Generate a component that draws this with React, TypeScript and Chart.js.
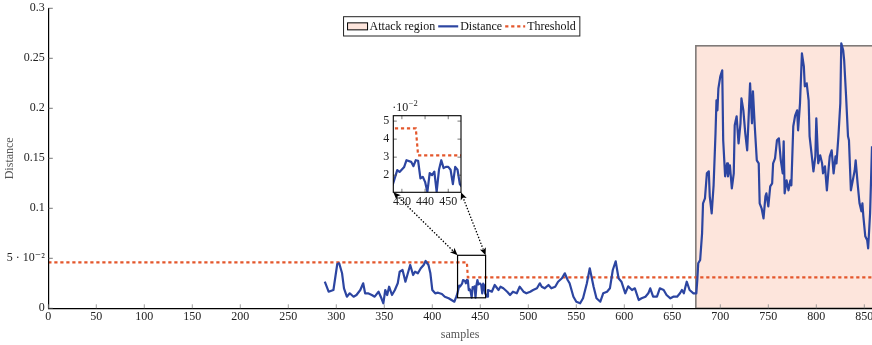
import React, { useEffect, useRef } from 'react';
import { Chart, registerables } from 'chart.js';

Chart.register(...registerables);

// ---------------- data ----------------
const sampleIdx = [
  288, 292, 297, 301, 303, 306, 308, 311, 314, 318,
  321, 325, 328, 330, 333, 337, 340, 344, 347, 349,
  351, 353, 355, 358, 361, 364, 366, 369, 372, 374,
  377, 380, 382, 385, 388, 391, 393, 396, 398, 400,
  403, 406, 410, 413, 417, 420, 423, 425, 426, 428,
  429, 431, 432, 434, 435, 436, 437, 438, 439, 440,
  441, 442, 443, 444, 445, 446, 447, 448, 449, 450,
  451, 452, 453, 454, 455, 457, 458, 462, 465, 469,
  471, 474, 478, 481, 484, 488, 491, 495, 498, 502,
  505, 509, 512, 514, 517, 521, 524, 528, 531, 535,
  538, 541, 543, 547, 550, 554, 557, 561, 564, 568,
  571, 575, 578, 582, 585, 588, 591, 594, 597, 601,
  604, 608, 611, 615, 618, 622, 625, 627, 630, 634,
  637, 641, 644, 648, 651, 655, 658, 660, 662, 665,
  668, 672, 675, 676, 677, 679, 681, 682, 684, 686,
  688, 689, 691, 693, 695, 696, 697, 698, 700, 702,
  703, 705, 707, 708, 710, 712, 714, 715, 717, 719,
  721, 722, 724, 726, 728, 729, 731, 733, 734, 736,
  738, 740, 741, 743, 745, 747, 748, 750, 752, 754,
  755, 757, 759, 761, 763, 765, 766, 767, 769, 771,
  773, 774, 776, 778, 780, 781, 783, 785, 787, 788,
  790, 792, 793, 795, 797, 799, 800, 802, 804, 806,
  807, 809, 811, 813, 814, 816, 818, 820, 821, 823,
  825, 826, 828, 829, 831, 833, 834, 836, 838, 840,
  841, 843, 845, 847, 848, 849, 851, 853, 854, 856,
  858, 860,
];

const distance = [
  0.0267, 0.0166, 0.0183, 0.0443, 0.045, 0.035, 0.02, 0.0116, 0.015, 0.0116,
  0.0133, 0.0183, 0.025, 0.015, 0.015, 0.0133, 0.0116, 0.0166, 0.01, 0.005,
  0.0183, 0.0133, 0.0216, 0.0133, 0.0183, 0.025, 0.0366, 0.0383, 0.0266, 0.0333,
  0.0433, 0.0333, 0.0366, 0.035, 0.04, 0.0433, 0.0473, 0.0433, 0.035, 0.0183,
  0.015, 0.0156, 0.0143, 0.0116, 0.01, 0.0083, 0.0066, 0.0116, 0.0144, 0.0228,
  0.0218, 0.0246, 0.0283, 0.0274, 0.025, 0.0283, 0.028, 0.0182, 0.0191, 0.0163,
  0.0107, 0.0212, 0.02, 0.022, 0.0107, 0.023, 0.0283, 0.0239, 0.0246, 0.0246,
  0.023, 0.015, 0.0246, 0.023, 0.015, 0.0116, 0.0183, 0.0166, 0.0233, 0.0183,
  0.0216, 0.02, 0.0166, 0.0133, 0.0166, 0.015, 0.0216, 0.0166, 0.015, 0.0166,
  0.0183, 0.02, 0.025, 0.0216, 0.02, 0.0233, 0.02, 0.0216, 0.0266, 0.03,
  0.035, 0.0283, 0.025, 0.0116, 0.0066, 0.005, 0.01, 0.025, 0.04, 0.0216,
  0.01, 0.0066, 0.015, 0.0166, 0.02, 0.0383, 0.047, 0.03, 0.0266, 0.015,
  0.022, 0.0183, 0.02, 0.0083, 0.01, 0.0116, 0.015, 0.02, 0.0116, 0.0116,
  0.02, 0.0183, 0.0133, 0.01, 0.0116, 0.0116, 0.015, 0.0183, 0.015, 0.0266,
  0.0183, 0.015, 0.015, 0.028, 0.045, 0.0483, 0.075, 0.105, 0.11, 0.135,
  0.137, 0.112, 0.095, 0.123, 0.175, 0.208, 0.198, 0.22, 0.232, 0.238,
  0.168, 0.132, 0.145, 0.132, 0.143, 0.12, 0.135, 0.183, 0.192, 0.165,
  0.185, 0.21, 0.198, 0.175, 0.158, 0.18, 0.225, 0.185, 0.217, 0.18,
  0.148, 0.145, 0.105, 0.1, 0.09, 0.112, 0.115, 0.102, 0.122, 0.125,
  0.145, 0.15, 0.168, 0.17, 0.148, 0.135, 0.167, 0.115, 0.128, 0.118,
  0.128, 0.123, 0.182, 0.193, 0.198, 0.178, 0.205, 0.255, 0.242, 0.222,
  0.225, 0.208, 0.172, 0.155, 0.137, 0.152, 0.19, 0.145, 0.153, 0.145,
  0.135, 0.142, 0.118, 0.142, 0.152, 0.158, 0.135, 0.152, 0.145, 0.172,
  0.205, 0.265, 0.258, 0.248, 0.212, 0.172, 0.168, 0.118, 0.128, 0.138,
  0.148, 0.125, 0.105, 0.097, 0.105, 0.092, 0.072, 0.068, 0.06, 0.095,
  0.162, 0.2,
];

const thresholdIdx = [0, 436, 437, 858];
const thresholdVal = [0.046, 0.046, 0.031, 0.031];

const legendLabels = ['Attack region', 'Distance', 'Threshold'];

const xMin = 0;
const xMax = 858;
const xStep = 50;
const yMin = 0;
const yMax = 0.3;
const yStep = 0.05;

const attackStart = 674.5;
const attackEnd = 900;
const attackTop = 0.2625;

const zoomXMin = 426.3;
const zoomXMax = 455.5;
const zoomYMin = 0.0105;
const zoomYMax = 0.053;
const zoomXStep = 10;
const zoomYStep = 0.01;

// ---------------- styles / layout ----------------
const W = 872;
const H = 345;
const BLUE = '#2c45a1';
const ORANGE = '#e4572c';
const ATTACK_FILL = '#fde5dc';
const ATTACK_BORDER = '#7f7a78';
const SERIF = '"Liberation Serif", "DejaVu Serif", serif';
const FONT12 = `12px ${SERIF}`;
const LINE_W = 2.2;

const PLOT = { left: 48.3, top: 8.3, bottom: 308.3 };
const INSET = { left: 393.3, top: 115.7, right: 461, bottom: 192.3 };
const INSET_CANVAS = { left: 355, top: 96, width: 115, height: 118 };

const distPoints = () => sampleIdx.map((s, i) => ({ x: s, y: distance[i] }));
const thrPoints = () => thresholdIdx.map((s, i) => ({ x: s, y: thresholdVal[i] }));

function arrowHead(ctx: CanvasRenderingContext2D, tx: number, ty: number, fx: number, fy: number) {
  const a = Math.atan2(ty - fy, tx - fx);
  const L = 7.5, Wd = 3.2;
  const c = Math.cos(a), s = Math.sin(a);
  ctx.beginPath();
  ctx.moveTo(tx, ty);
  ctx.lineTo(tx - L * c + Wd * s, ty - L * s - Wd * c);
  ctx.lineTo(tx - L * c * 0.75, ty - L * s * 0.75);
  ctx.lineTo(tx - L * c - Wd * s, ty - L * s + Wd * c);
  ctx.closePath();
  ctx.fill();
}

function dottedArrow(ctx: CanvasRenderingContext2D, x1: number, y1: number, x2: number, y2: number) {
  ctx.save();
  ctx.strokeStyle = '#000';
  ctx.fillStyle = '#000';
  ctx.lineWidth = 1.5;
  ctx.lineCap = 'round';
  ctx.setLineDash([0.1, 3]);
  const a = Math.atan2(y2 - y1, x2 - x1);
  const c = Math.cos(a), s = Math.sin(a);
  ctx.beginPath();
  ctx.moveTo(x1 + 5 * c, y1 + 5 * s);
  ctx.lineTo(x2 - 5 * c, y2 - 5 * s);
  ctx.stroke();
  ctx.setLineDash([]);
  arrowHead(ctx, x1, y1, x2, y2);
  arrowHead(ctx, x2, y2, x1, y1);
  ctx.restore();
}

function drawLegend(ctx: CanvasRenderingContext2D) {
  ctx.save();
  ctx.font = FONT12;
  const sw = 20, gapSwText = 2, gapItem = 3, pad = 4;
  let total = pad * 2;
  legendLabels.forEach((l, i) => {
    total += sw + gapSwText + ctx.measureText(l).width + (i < legendLabels.length - 1 ? gapItem : 0);
  });
  const cx = 461.7;
  const left = cx - total / 2;
  const top = 16.7;
  const h = 19.3;
  const midY = top + h / 2;
  ctx.fillStyle = '#fff';
  ctx.fillRect(left, top, total, h);
  ctx.strokeStyle = '#222';
  ctx.lineWidth = 1;
  ctx.strokeRect(left, top, total, h);
  let x = left + pad;
  legendLabels.forEach((l, i) => {
    if (i === 0) {
      ctx.fillStyle = ATTACK_FILL;
      ctx.fillRect(x, midY - 3.5, sw, 7);
      ctx.strokeStyle = '#000';
      ctx.lineWidth = 1;
      ctx.strokeRect(x, midY - 3.5, sw, 7);
    } else {
      ctx.strokeStyle = i === 1 ? BLUE : ORANGE;
      ctx.lineWidth = LINE_W;
      ctx.setLineDash(i === 1 ? [] : [3.2, 2.8]);
      ctx.beginPath();
      ctx.moveTo(x, midY);
      ctx.lineTo(x + sw, midY);
      ctx.stroke();
      ctx.setLineDash([]);
    }
    x += sw + gapSwText;
    ctx.fillStyle = '#111';
    ctx.textBaseline = 'middle';
    ctx.textAlign = 'left';
    ctx.fillText(l, x, midY + 0.5);
    x += ctx.measureText(l).width + gapItem;
  });
  ctx.restore();
}

const mainPlugin = {
  id: 'mainDecor',
  beforeDatasetsDraw(chart: any) {
    const { ctx, chartArea: ca, scales } = chart;
    const x = scales.x, y = scales.y;
    ctx.save();
    ctx.beginPath();
    ctx.rect(ca.left, ca.top - 2, ca.right - ca.left, ca.bottom - ca.top + 2);
    ctx.clip();
    const x0 = x.getPixelForValue(attackStart);
    const x1 = x.getPixelForValue(attackEnd);
    const y0 = y.getPixelForValue(0);
    const y1 = y.getPixelForValue(attackTop);
    ctx.fillStyle = ATTACK_FILL;
    ctx.fillRect(x0, y1, x1 - x0, y0 - y1);
    ctx.strokeStyle = ATTACK_BORDER;
    ctx.lineWidth = 1.6;
    ctx.strokeRect(x0, y1, x1 - x0, y0 - y1);
    ctx.restore();
  },
  afterDraw(chart: any) {
    const { ctx, chartArea: ca, scales } = chart;
    const x = scales.x, y = scales.y;
    ctx.save();
    ctx.lineWidth = 0.8;
    ctx.strokeStyle = '#888';
    x.ticks.forEach((t: any) => {
      const px = x.getPixelForValue(t.value);
      ctx.beginPath();
      ctx.moveTo(px, ca.bottom);
      ctx.lineTo(px, ca.bottom - 4);
      ctx.stroke();
    });
    ctx.strokeStyle = '#555';
    y.ticks.forEach((t: any) => {
      const py = y.getPixelForValue(t.value);
      ctx.beginPath();
      ctx.moveTo(ca.left, py);
      ctx.lineTo(ca.left + 4.5, py);
      ctx.stroke();
    });
    const rx0 = x.getPixelForValue(zoomXMin);
    const rx1 = x.getPixelForValue(zoomXMax);
    const ry0 = y.getPixelForValue(zoomYMax);
    const ry1 = y.getPixelForValue(zoomYMin);
    ctx.strokeStyle = '#000';
    ctx.lineWidth = 1.2;
    ctx.strokeRect(rx0, ry0, rx1 - rx0, ry1 - ry0);
    ctx.restore();
    dottedArrow(ctx, INSET.left, INSET.bottom, rx0, ry0);
    dottedArrow(ctx, INSET.right, INSET.bottom, rx1, ry0);
    drawLegend(ctx);
  },
};

const insetPlugin = {
  id: 'insetDecor',
  beforeDraw(chart: any) {
    const { ctx, chartArea: ca } = chart;
    ctx.save();
    ctx.fillStyle = '#fff';
    ctx.fillRect(ca.left, ca.top, ca.right - ca.left, ca.bottom - ca.top);
    ctx.restore();
  },
  afterDraw(chart: any) {
    const { ctx, chartArea: ca, scales } = chart;
    const x = scales.x, y = scales.y;
    ctx.save();
    ctx.strokeStyle = '#555';
    ctx.lineWidth = 0.8;
    x.ticks.forEach((t: any) => {
      const px = x.getPixelForValue(t.value);
      ctx.beginPath();
      ctx.moveTo(px, ca.bottom);
      ctx.lineTo(px, ca.bottom - 3.5);
      ctx.moveTo(px, ca.top);
      ctx.lineTo(px, ca.top + 3.5);
      ctx.stroke();
    });
    y.ticks.forEach((t: any) => {
      const py = y.getPixelForValue(t.value);
      ctx.beginPath();
      ctx.moveTo(ca.left, py);
      ctx.lineTo(ca.left + 3.5, py);
      ctx.moveTo(ca.right, py);
      ctx.lineTo(ca.right - 3.5, py);
      ctx.stroke();
    });
    ctx.strokeStyle = '#000';
    ctx.lineWidth = 1.1;
    ctx.strokeRect(ca.left, ca.top, ca.right - ca.left, ca.bottom - ca.top);
    ctx.fillStyle = '#222';
    ctx.textAlign = 'left';
    ctx.textBaseline = 'alphabetic';
    ctx.font = FONT12;
    const base = '\u00b710';
    ctx.fillText(base, ca.left - 1, ca.top - 5);
    const bw = ctx.measureText(base).width;
    ctx.font = `8.5px ${SERIF}`;
    ctx.fillText('\u22122', ca.left - 1 + bw + 0.5, ca.top - 9.5);
    ctx.restore();
  },
};

export default function App() {
  const mainRef = useRef<HTMLCanvasElement | null>(null);
  const insetRef = useRef<HTMLCanvasElement | null>(null);

  useEffect(() => {
    if (!mainRef.current || !insetRef.current) return;
    const tickFont = { family: SERIF, size: 12 };
    const titleFont = { family: SERIF, size: 12 };

    const main = new Chart(mainRef.current, {
      type: 'line',
      data: {
        datasets: [
          {
            label: legendLabels[1],
            data: distPoints(),
            borderColor: BLUE,
            borderWidth: LINE_W,
            pointRadius: 0,
            tension: 0,
            borderJoinStyle: 'round',
            clip: 0,
          } as any,
          {
            label: legendLabels[2],
            data: thrPoints(),
            borderColor: ORANGE,
            borderWidth: LINE_W,
            borderDash: [3.2, 2.8],
            pointRadius: 0,
            tension: 0,
            clip: 0,
          } as any,
        ],
      },
      options: {
        animation: false,
        responsive: false,
        events: [],
        layout: { padding: { top: PLOT.top, right: 0, left: 0, bottom: 0 } },
        plugins: { legend: { display: false }, tooltip: { enabled: false } },
        scales: {
          x: {
            type: 'linear',
            min: xMin,
            max: xMax,
            ticks: {
              stepSize: xStep,
              includeBounds: false,
              autoSkip: false,
              maxRotation: 0,
              padding: 1,
              font: tickFont,
              color: '#222',
            },
            grid: { display: false, drawTicks: false },
            border: { display: true, color: '#000', width: 1.2, z: 1 },
            title: {
              display: true,
              text: 'samples',
              font: titleFont,
              color: '#555',
              padding: { top: 0, bottom: 3.3 },
            },
            afterFit(s: any) {
              s.height = H - PLOT.bottom;
              s.paddingLeft = 0;
              s.paddingRight = 0;
            },
          },
          y: {
            type: 'linear',
            min: yMin,
            max: yMax,
            ticks: {
              stepSize: yStep,
              autoSkip: false,
              padding: 3.5,
              font: tickFont,
              color: '#222',
              callback: (v: any) => {
                const r = Math.round(Number(v) * 100) / 100;
                if (Math.abs(r - 0.05) < 1e-9) return '5 \u00b7 10\u207b\u00b2';
                return String(r);
              },
            },
            grid: { display: false, drawTicks: false },
            border: { display: true, color: '#000', width: 1.2, z: 1 },
            title: {
              display: true,
              text: 'Distance',
              font: titleFont,
              color: '#555',
              padding: { top: 2.8, bottom: 0 },
            },
            afterFit(s: any) {
              s.width = PLOT.left;
              s.paddingTop = 0;
              s.paddingBottom = 0;
            },
          },
        },
      } as any,
      plugins: [mainPlugin],
    });

    const inset = new Chart(insetRef.current, {
      type: 'line',
      data: {
        datasets: [
          {
            data: distPoints(),
            borderColor: BLUE,
            borderWidth: LINE_W,
            pointRadius: 0,
            tension: 0,
            borderJoinStyle: 'round',
            clip: 0,
          } as any,
          {
            data: thrPoints(),
            borderColor: ORANGE,
            borderWidth: LINE_W,
            borderDash: [3.2, 2.8],
            pointRadius: 0,
            tension: 0,
            clip: 0,
          } as any,
        ],
      },
      options: {
        animation: false,
        responsive: false,
        events: [],
        layout: {
          padding: {
            top: INSET.top - INSET_CANVAS.top,
            right: INSET_CANVAS.left + INSET_CANVAS.width - INSET.right,
            left: 0,
            bottom: 0,
          },
        },
        plugins: { legend: { display: false }, tooltip: { enabled: false } },
        scales: {
          x: {
            type: 'linear',
            min: zoomXMin,
            max: zoomXMax,
            ticks: {
              stepSize: zoomXStep,
              includeBounds: false,
              autoSkip: false,
              maxRotation: 0,
              padding: 2,
              font: tickFont,
              color: '#222',
            },
            grid: { display: false, drawTicks: false },
            border: { display: false },
            afterFit(s: any) {
              s.height = INSET_CANVAS.top + INSET_CANVAS.height - INSET.bottom;
              s.paddingLeft = 0;
              s.paddingRight = 0;
            },
          },
          y: {
            type: 'linear',
            min: zoomYMin,
            max: zoomYMax,
            ticks: {
              stepSize: zoomYStep,
              includeBounds: false,
              autoSkip: false,
              padding: 4,
              font: tickFont,
              color: '#222',
              callback: (v: any) => String(Math.round(Number(v) * 100)),
            },
            grid: { display: false, drawTicks: false },
            border: { display: false },
            afterFit(s: any) {
              s.width = INSET.left - INSET_CANVAS.left;
              s.paddingTop = 0;
              s.paddingBottom = 0;
            },
          },
        },
      } as any,
      plugins: [insetPlugin],
    });

    return () => {
      main.destroy();
      inset.destroy();
    };
  }, []);

  return (
    <div style={{ position: 'absolute', left: 0, top: 0, width: W, height: H, background: '#fff' }}>
      <canvas ref={mainRef} width={W} height={H} style={{ position: 'absolute', left: 0, top: 0, display: 'block' }} />
      <canvas
        ref={insetRef}
        width={INSET_CANVAS.width}
        height={INSET_CANVAS.height}
        style={{
          position: 'absolute',
          left: INSET_CANVAS.left,
          top: INSET_CANVAS.top,
          display: 'block',
        }}
      />
    </div>
  );
}
